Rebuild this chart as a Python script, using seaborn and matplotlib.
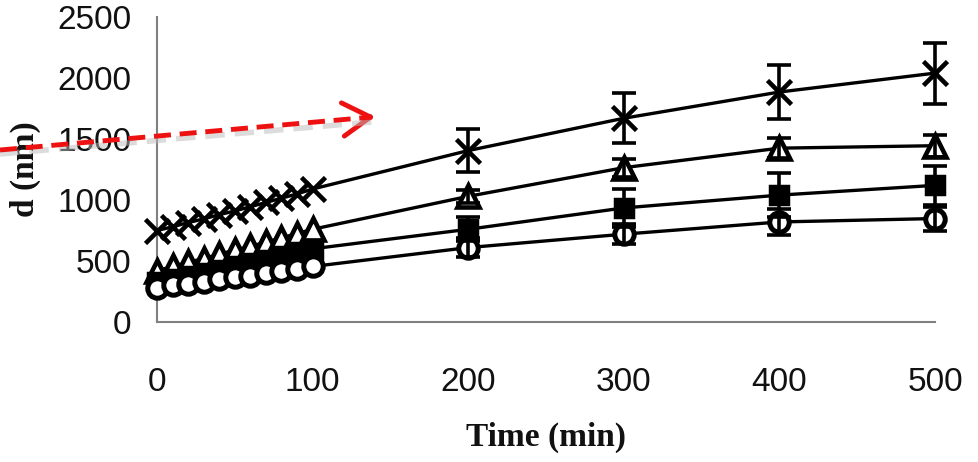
import numpy as np
import pandas as pd
import matplotlib
matplotlib.use("Agg")
import matplotlib.pyplot as plt
import seaborn as sns
from matplotlib.lines import Line2D
from matplotlib.patches import FancyArrowPatch

# ---- data ----
time_min = [0, 10, 20, 30, 40, 50, 60, 70, 80, 90, 100, 200, 300, 400, 500]
d_cross = [750, 780, 815, 845, 880, 910, 945, 980, 1015, 1050, 1090, 1405, 1670, 1885, 2040]
d_triangle = [420, 455, 490, 520, 555, 590, 620, 655, 690, 725, 760, 1030, 1265, 1425, 1445]
d_square = [330, 355, 380, 405, 430, 460, 485, 510, 540, 570, 600, 760, 935, 1040, 1120]
d_circle = [280, 300, 315, 330, 350, 365, 380, 400, 415, 435, 455, 610, 720, 820, 848]

err_time = [200, 300, 400, 500]
err_cross = [175, 205, 223, 250]
err_triangle = [55, 75, 80, 90]
err_square = [100, 155, 180, 160]
err_circle = [80, 83, 110, 98]

x_ticks = [0, 100, 200, 300, 400, 500]
y_ticks = [0, 500, 1000, 1500, 2000, 2500]
x_label = "Time (min)"
y_label = "d (nm)"

sns.set_theme(style="white")
plt.rcParams["font.family"] = ["Liberation Sans", "DejaVu Sans"]

W, H = 979, 462
fig = plt.figure(figsize=(W / 100, H / 100), dpi=100)
ax = fig.add_axes([157 / W, (H - 322) / H, (935 - 157) / W, (322 - 17) / H])

series = [
    (d_cross, err_cross, "x", "black", 17, 3.3),
    (d_triangle, err_triangle, "^", "white", 16, 3.3),
    (d_square, err_square, "s", "black", 13, 2.5),
    (d_circle, err_circle, "o", "white", 14, 3.6),
]

for vals, errs, mk, fc, ms, mew in series:
    df = pd.DataFrame({"time": time_min, "d": vals})
    sns.lineplot(data=df, x="time", y="d", ax=ax, color="black", lw=2.4,
                 marker=mk, markersize=ms, markerfacecolor=fc,
                 markeredgecolor="black", markeredgewidth=mew,
                 clip_on=False, zorder=3)
    n = len(err_time)
    ax.errorbar(err_time, vals[-n:], yerr=errs, fmt="none", ecolor="black",
                elinewidth=2.6, capsize=8.5, capthick=2.6, clip_on=False, zorder=4)

ax.set_xlim(0, 500)
ax.set_ylim(0, 2500)
ax.set_xticks(x_ticks)
ax.set_yticks(y_ticks)
for s in ["top", "right"]:
    ax.spines[s].set_visible(False)
for s in ["left", "bottom"]:
    ax.spines[s].set_color("#808080")
    ax.spines[s].set_linewidth(1.5)
ax.tick_params(axis="both", direction="inout", length=15, width=1.2,
               color="#808080", labelsize=24, labelcolor="#111111")
ax.tick_params(axis="y", pad=11)
ax.tick_params(axis="x", pad=25)

ax.set_xlabel(x_label, fontfamily=["Liberation Serif"], fontweight="bold",
              fontsize=24, labelpad=17, color="#111111")
ax.set_ylabel(y_label, fontfamily=["Liberation Serif"], fontweight="bold",
              fontsize=24, labelpad=12, color="#111111")

# red dashed arrow annotation (decoration)
def fp(px, py):
    return (px / W, 1 - py / H)

shadow = Line2D([fp(0, 154)[0], fp(372, 122)[0]], [fp(0, 154)[1], fp(372, 122)[1]],
                transform=fig.transFigure, color="#bbbbbb", lw=4, alpha=0.5,
                linestyle=(0, (3.5, 1.8)))
fig.add_artist(shadow)
shaft = Line2D([fp(0, 150)[0], fp(372, 117)[0]], [fp(0, 150)[1], fp(372, 117)[1]],
               transform=fig.transFigure, color="#ee1111", lw=3.5,
               linestyle=(0, (3.5, 1.8)))
fig.add_artist(shaft)
head = FancyArrowPatch(fp(362, 117.8), fp(378, 116.4), transform=fig.transFigure,
                       arrowstyle="->,head_length=1.0,head_width=0.6",
                       mutation_scale=20, color="#ee1111", lw=3.5)
fig.add_artist(head)

fig.savefig("out.png", dpi=100)
